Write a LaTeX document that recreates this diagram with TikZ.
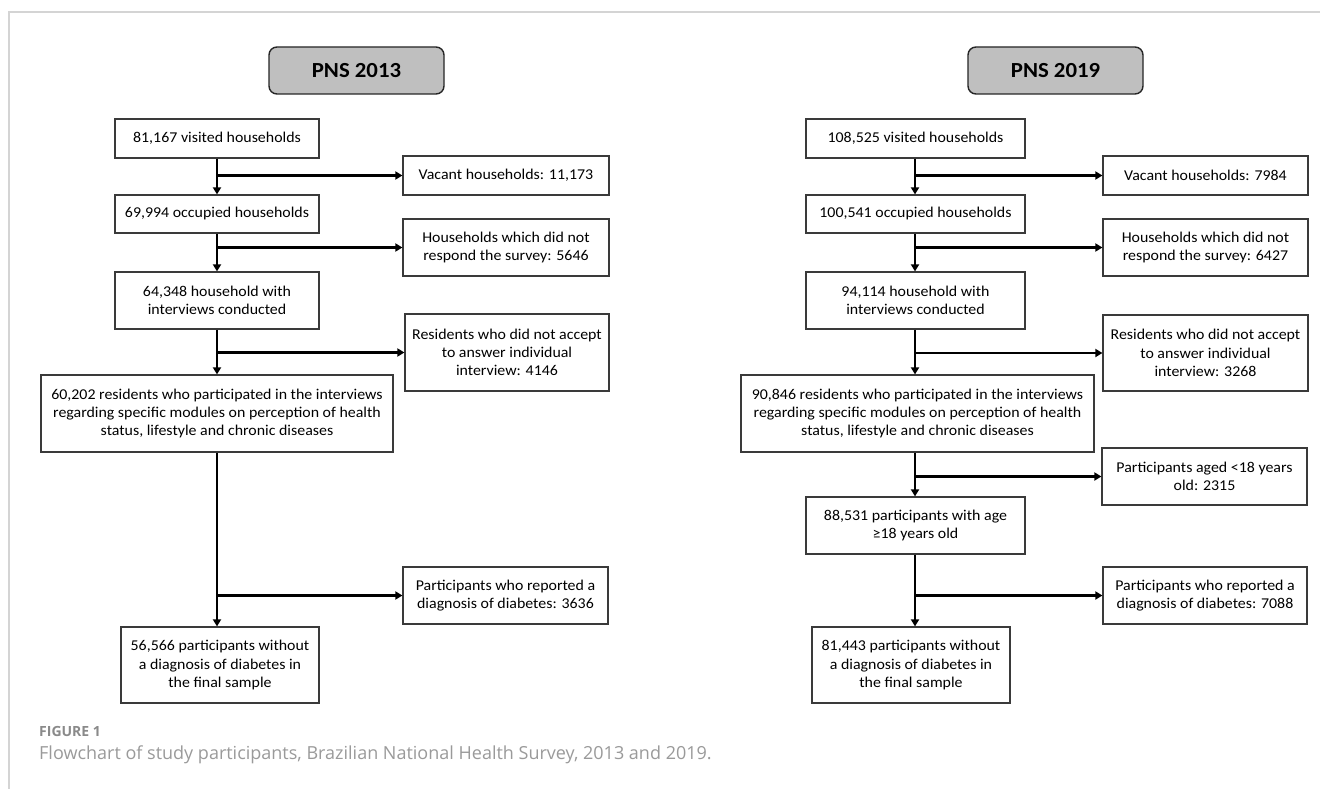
\documentclass[tikz,border=0pt]{standalone}
\usepackage{fontspec}
\setmainfont{Carlito}[FakeStretch=1.06]
\newfontfamily\capfont{Open Sans}
\usetikzlibrary{arrows.meta}
\definecolor{hdrfill}{HTML}{BFBFBF}
\definecolor{frame}{HTML}{D4D4D4}
\definecolor{capgray}{HTML}{8A8A8A}
\definecolor{capgrayl}{HTML}{9A9A9A}
\definecolor{boxline}{HTML}{3A3A3A}
\begin{document}
\begin{tikzpicture}[x=1pt,y=-1pt,
 box/.style={draw=boxline, line width=1.2pt, fill=white, align=center, inner sep=0pt,
   font=\fontsize{15}{18.3}\selectfont},
 head/.style={draw=black!85, line width=1.4pt, fill=hdrfill, rounded corners=8pt, inner sep=0pt,
   font=\bfseries\fontsize{21.5}{24}\selectfont},
 arr/.style={line width=2.2pt, -{Triangle[length=7pt,width=8pt]}},
 ]
\useasboundingbox (0,0) rectangle (1320,789);
\fill[white] (0,0) rectangle (1320,789);
\draw[frame, line width=1.2pt] (9,789) -- (9,12) -- (1320,12);

\coordinate (cl) at (217,0);
\coordinate (cr) at (915,0);

% ---------- left: PNS 2013
\node[head, minimum width=175pt, minimum height=47pt] (H1) at (356.5,70.5) {PNS 2013};
\node[box, minimum width=204pt, minimum height=39pt] (L1) at (217,138.5) {81,167 visited households};
\node[box, minimum width=206pt, minimum height=39pt] (LV) at (506,175.5) {Vacant households: 11,173};
\node[box, minimum width=204pt, minimum height=38pt] (L2) at (217,214) {69,994 occupied households};
\node[box, minimum width=206pt, minimum height=57pt] (LH) at (506,247.5) {Households which did not\\respond the survey: 5646};
\node[box, minimum width=204pt, minimum height=57pt] (L3) at (217,300.5) {64,348 household with\\interviews conducted};
\node[box, minimum width=204pt, minimum height=77pt] (LR) at (507,352.5) {Residents who did not accept\\to answer individual\\interview: 4146};
\node[box, minimum width=352pt, minimum height=77pt] (L4) at (217,413.5) {60,202 residents who participated in the interviews\\regarding specific modules on perception of health\\status, lifestyle and chronic diseases};
\node[box, minimum width=205pt, minimum height=57pt] (LP) at (505.5,595.5) {Participants who reported a\\diagnosis of diabetes: 3636};
\node[box, minimum width=198pt, minimum height=76pt] (L5) at (220,665) {56,566 participants without\\a diagnosis of diabetes in\\the final sample};

\draw[arr] (L1.south -| cl) -- (L2.north -| cl);
\draw[arr] (cl |- LV.west) -- (LV.west);
\draw[arr] (L2.south -| cl) -- (L3.north -| cl);
\draw[arr] (cl |- LH.west) -- (LH.west);
\draw[arr] (L3.south -| cl) -- (L4.north -| cl);
\draw[arr] (cl |- LR.west) -- (LR.west);
\draw[arr] (L4.south -| cl) -- (L5.north -| cl);
\draw[arr] (cl |- LP.west) -- (LP.west);

% ---------- right: PNS 2019
\node[head, minimum width=175pt, minimum height=47pt] (H2) at (1055.5,70.5) {PNS 2019};
\node[box, minimum width=219pt, minimum height=39pt] (R1) at (915.5,138.5) {108,525 visited households};
\node[box, minimum width=205pt, minimum height=39pt] (RV) at (1205.5,175.5) {Vacant households: 7984};
\node[box, minimum width=219pt, minimum height=38pt] (R2) at (915.5,214) {100,541 occupied households};
\node[box, minimum width=205pt, minimum height=57pt] (RH) at (1205.5,247.5) {Households which did not\\respond the survey: 6427};
\node[box, minimum width=219pt, minimum height=57pt] (R3) at (915.5,300.5) {94,114 household with\\interviews conducted};
\node[box, minimum width=205pt, minimum height=76pt] (RR) at (1205.5,353) {Residents who did not accept\\to answer individual\\interview: 3268};
\node[box, minimum width=353pt, minimum height=77pt] (R4) at (917.5,413.5) {90,846 residents who participated in the interviews\\regarding specific modules on perception of health\\status, lifestyle and chronic diseases};
\node[box, minimum width=205pt, minimum height=57pt] (RA) at (1204.5,476.5) {Participants aged <18 years\\old: 2315};
\node[box, minimum width=219pt, minimum height=57pt] (R5) at (915.5,525.5) {88,531 participants with age\\≥18 years old};
\node[box, minimum width=204pt, minimum height=57pt] (RP) at (1205,595.5) {Participants who reported a\\diagnosis of diabetes: 7088};
\node[box, minimum width=198pt, minimum height=76pt] (R6) at (911,665) {81,443 participants without\\a diagnosis of diabetes in\\the final sample};

\draw[arr] (R1.south -| cr) -- (R2.north -| cr);
\draw[arr] (cr |- RV.west) -- (RV.west);
\draw[arr] (R2.south -| cr) -- (R3.north -| cr);
\draw[arr] (cr |- RH.west) -- (RH.west);
\draw[arr] (R3.south -| cr) -- (R4.north -| cr);
\draw[arr] (cr |- RR.west) -- (RR.west);
\draw[arr] (R4.south -| cr) -- (R5.north -| cr);
\draw[arr] (cr |- RA.west) -- (RA.west);
\draw[arr] (R5.south -| cr) -- (R6.north -| cr);
\draw[arr] (cr |- RP.west) -- (RP.west);

% ---------- caption
\node[anchor=base west, inner sep=0pt, text=capgray, font=\capfont\bfseries\fontsize{14}{16}\selectfont] (fig) at (39,736) {FIGURE 1};
\node[anchor=base west, inner sep=0pt, text=capgrayl, font=\capfont\fontsize{18}{22}\selectfont] (cap) at (39,759) {Flowchart of study participants, Brazilian National Health Survey, 2013 and 2019.};
\end{tikzpicture}
\end{document}
